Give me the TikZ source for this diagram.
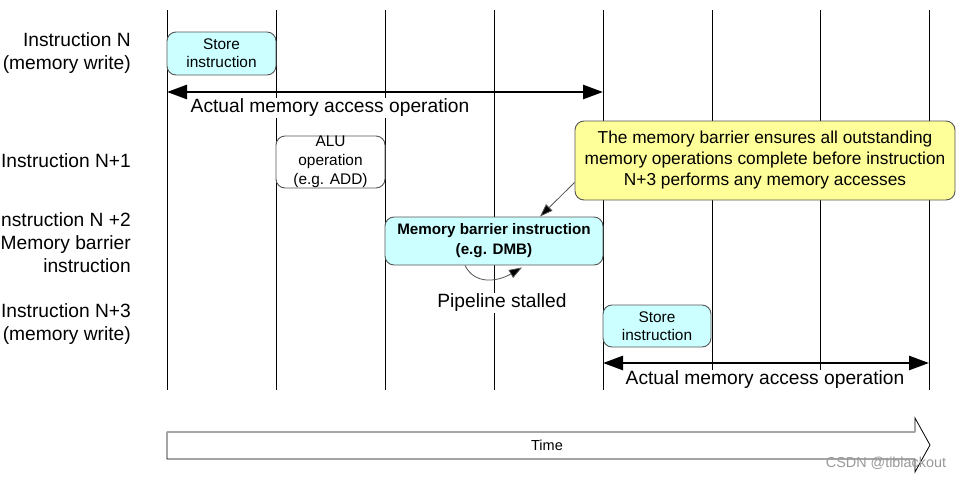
\documentclass[tikz,border=0pt]{standalone}
\usepackage{fontspec}
\setmainfont{Liberation Sans}
\usetikzlibrary{arrows.meta}
\definecolor{cyanfill}{HTML}{CCFFFF}
\definecolor{yelfill}{HTML}{FFFF99}
\definecolor{edgegray}{HTML}{555555}
\begin{document}
\begin{tikzpicture}[x=1pt,y=-1pt,
  gridline/.style={black, line width=0.9pt},
  rowlabel/.style={anchor=east, align=right, font=\fontsize{19.2}{23}\selectfont, inner sep=0pt},
  instbox/.style={draw=edgegray, line width=0.9pt, rounded corners=9pt, fill=cyanfill, align=center, font=\fontsize{15.4}{18}\selectfont, inner sep=0pt},
  alubox/.style={draw=edgegray, line width=0.9pt, rounded corners=9pt, fill=white, align=center, font=\fontsize{15.4}{19}\selectfont, inner sep=0pt},
  notebox/.style={draw=edgegray, line width=0.9pt, rounded corners=9pt, fill=yelfill, align=center, font=\fontsize{17.3}{21}\selectfont, inner sep=0pt},
  spanarrow/.style={line width=2.6pt, {Triangle[length=20pt,width=14pt]}-{Triangle[length=20pt,width=14pt]}},
  spanlabel/.style={fill=white, inner sep=1pt, font=\fontsize{19.2}{23}\selectfont},
  pointer/.style={draw=edgegray, line width=0.8pt, -{Triangle[length=13pt,width=9pt,fill=black]}},
  timearrow/.style={fill=white, draw=black, line width=0.8pt}
]
\useasboundingbox (0,0) rectangle (970,485);

% grid lines
\foreach \x [count=\i] in {167,276,385,494,603,712,820,929} {
  \coordinate (t\i) at (\x,10);
  \coordinate (b\i) at (\x,390);
  \draw[gridline] (t\i) -- (b\i);
}

% row labels
\node[rowlabel] (lab1) at (131,53) {Instruction N\\(memory write)};
\node[rowlabel] (lab2) at (131,161) {Instruction N+1};
\node[rowlabel] (lab3) at (131,243) {Instruction N +2\\Memory barrier\\instruction};
\node[rowlabel] (lab4) at (131,324) {Instruction N+3\\(memory write)};

% boxes
\node[instbox, minimum width=109pt, minimum height=43pt] (store1) at (221.5,53.5) {Store\\instruction};
\node[alubox, minimum width=109pt, minimum height=52pt] (alu) at (330.5,162) {ALU\\operation\\(e.g. ADD)};
\node[instbox, minimum width=218pt, minimum height=48pt, font=\bfseries\fontsize{15.2}{20}\selectfont] (barrier) at (494,241) {Memory barrier instruction\\(e.g. DMB)};
\node[instbox, minimum width=108pt, minimum height=42pt] (store2) at (657,326) {Store\\instruction};
\node[notebox, minimum width=380pt, minimum height=79pt] (note) at (765,160.5) {The memory barrier ensures all outstanding\\memory operations complete before instruction\\N+3 performs any memory accesses};

% span arrows
\coordinate (s1l) at (167,92);
\coordinate (s1r) at (603,92);
\draw[spanarrow] (s1l) -- (s1r);
\node[spanlabel] (span1) at (330,108) {Actual memory access operation};

\coordinate (s2l) at (603,363);
\coordinate (s2r) at (929,363);
\draw[spanarrow] (s2l) -- (s2r);
\node[spanlabel] (span2) at (765,380) {Actual memory access operation};

% pointer from note to barrier
\draw[pointer] ([yshift=-22pt]note.west) -- ([xshift=46pt]barrier.north);

% pipeline stalled
\draw[pointer] ([xshift=-29pt,yshift=0pt]barrier.south) .. controls +(10,20) and +(-24,14) .. ([xshift=28pt,yshift=-2pt]barrier.south);
\node[spanlabel] (stall) at (502,303) {Pipeline stalled};

% time arrow
\draw[timearrow] (167,432) -- (915,432) -- (915,418) -- (930,445) -- (915,472) -- (915,459) -- (167,459) -- cycle;
\draw[gray!70, line width=2pt] (167,432) -- (915,432);
\node[font=\fontsize{14.5}{17}\selectfont, inner sep=0pt] (time) at (547,445) {Time};

% watermark
\node[font=\fontsize{14.4}{17}\selectfont, text=gray!80, inner sep=0pt] (wm) at (886,463) {CSDN @tiblackout};
\end{tikzpicture}
\end{document}
